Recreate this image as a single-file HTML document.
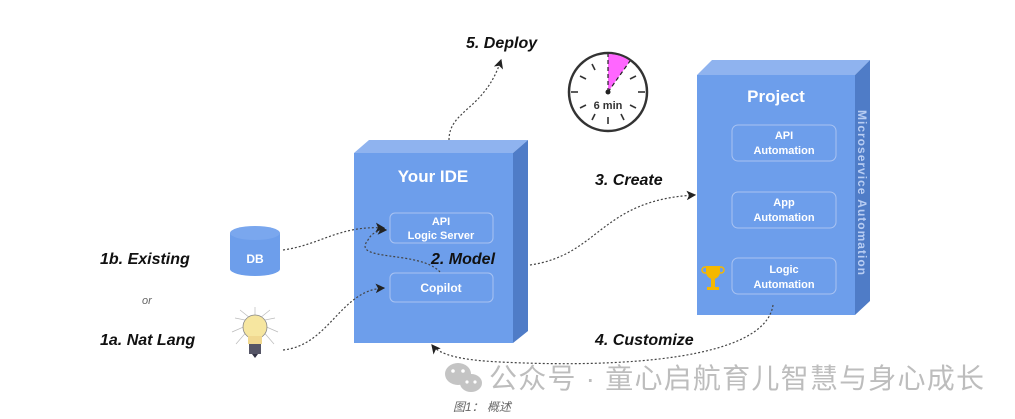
<!DOCTYPE html>
<html><head><meta charset="utf-8"><style>
body{margin:0;background:#fff;width:1015px;height:419px;overflow:hidden}
svg{display:block}
text{font-family:"Liberation Sans",sans-serif}
.w{fill:#fff;font-weight:bold;text-anchor:middle}
.b{font-weight:bold;font-style:italic;fill:#111;font-size:16px}
.d{fill:none;stroke:#444;stroke-width:1.2;stroke-dasharray:2 2}
.in{fill:none;stroke:#a9c3f2;stroke-width:1}
</style></head><body>
<svg width="1015" height="419" viewBox="0 0 1015 419">
<defs><marker id="a" markerWidth="8" markerHeight="8" refX="7" refY="4" orient="auto"><path d="M0,0 L8,4 L0,8 L2,4z" fill="#222"/></marker></defs>
<polygon points="354,153 369,140 528,140 513,153" fill="#8fb3ef"/>
<polygon points="513,153 528,140 528,331 513,343" fill="#4f7cc7"/>
<rect x="354" y="153" width="159" height="190" fill="#6d9eeb"/>
<text x="433" y="182" class="w" font-size="17">Your IDE</text>
<rect x="390" y="213" width="103" height="30" rx="5" class="in"/>
<text x="441" y="225" class="w" font-size="11">API</text>
<text x="441" y="239" class="w" font-size="11">Logic Server</text>
<rect x="390" y="273" width="103" height="29" rx="5" class="in"/>
<text x="441" y="292" class="w" font-size="12">Copilot</text>
<text x="431" y="264" class="b">2. Model</text>
<polygon points="697,75 712,60 870,60 855,75" fill="#8fb3ef"/>
<polygon points="855,75 870,60 870,301 855,315" fill="#4f7cc7"/>
<rect x="697" y="75" width="158" height="240" fill="#6d9eeb"/>
<text x="776" y="102" class="w" font-size="17">Project</text>
<rect x="732" y="125" width="104" height="36" rx="6" class="in"/>
<text x="784" y="139" class="w" font-size="11">API</text>
<text x="784" y="154" class="w" font-size="11">Automation</text>
<rect x="732" y="192" width="104" height="36" rx="6" class="in"/>
<text x="784" y="206" class="w" font-size="11">App</text>
<text x="784" y="221" class="w" font-size="11">Automation</text>
<rect x="732" y="258" width="104" height="36" rx="6" class="in"/>
<text x="784" y="273" class="w" font-size="11">Logic</text>
<text x="784" y="288" class="w" font-size="11">Automation</text>
<text transform="translate(858,110) rotate(90)" fill="#b8cdf3" font-weight="bold" font-size="12" textLength="165">Microservice Automation</text>
<path d="M706,266 h14 v6 a7,7 0 0 1 -14,0z" fill="#f5b800"/>
<circle cx="705" cy="270" r="3" fill="none" stroke="#f5b800" stroke-width="1.5"/>
<circle cx="721" cy="270" r="3" fill="none" stroke="#f5b800" stroke-width="1.5"/>
<rect x="711" y="279" width="4" height="8" fill="#f5b800"/><rect x="707" y="287" width="12" height="3" fill="#f5b800"/>
<path d="M230,233 v36 a25,7 0 0 0 50,0 v-36z" fill="#6d9eeb"/>
<ellipse cx="255" cy="233" rx="25" ry="7" fill="#7aa7ee"/>
<text x="255" y="263" class="w" font-size="12">DB</text>
<g stroke="#bbb" stroke-width="0.7">
<line x1="255" y1="322" x2="235" y2="318"/><line x1="255" y1="322" x2="275" y2="318"/><line x1="255" y1="322" x2="240" y2="310"/><line x1="255" y1="322" x2="270" y2="310"/><line x1="255" y1="322" x2="232" y2="332"/><line x1="255" y1="322" x2="278" y2="332"/><line x1="255" y1="322" x2="236" y2="344"/><line x1="255" y1="322" x2="274" y2="344"/><line x1="255" y1="322" x2="255" y2="307"/></g>
<circle cx="255" cy="327" r="12" fill="#f6e6a0" stroke="#888" stroke-width="0.8"/>
<path d="M248,336 h14 v8 h-14z" fill="#f0d890"/>
<rect x="249" y="344" width="12" height="10" fill="#556"/><path d="M252,354 h6 l-3,4z" fill="#334"/>
<circle cx="608" cy="92" r="39" fill="#fff" stroke="#333" stroke-width="2.5"/>
<path d="M608,92 L608,54 A38,38 0 0 1 630,61 Z" fill="#ff66ff"/>
<line x1="608" y1="92" x2="608" y2="54" stroke="#222" stroke-width="1.2" stroke-dasharray="4 3"/>
<line x1="608" y1="92" x2="630" y2="61" stroke="#222" stroke-width="1.2" stroke-dasharray="4 3"/>
<g stroke="#333" stroke-width="1.6">
<line x1="592" y1="64" x2="595" y2="70"/><line x1="580" y1="76" x2="586" y2="79"/><line x1="571" y1="92" x2="578" y2="92"/><line x1="580" y1="108" x2="586" y2="105"/><line x1="592" y1="120" x2="595" y2="114"/><line x1="608" y1="124" x2="608" y2="117"/><line x1="624" y1="120" x2="621" y2="114"/><line x1="636" y1="108" x2="630" y2="105"/><line x1="645" y1="92" x2="638" y2="92"/><line x1="636" y1="76" x2="630" y2="79"/></g>
<circle cx="608" cy="92" r="2.5" fill="#222"/>
<text x="608" y="109" text-anchor="middle" font-size="11" font-weight="bold" fill="#333">6 min</text>
<text x="466" y="48" class="b">5. Deploy</text>
<text x="595" y="185" class="b">3. Create</text>
<text x="595" y="345" class="b">4. Customize</text>
<text x="100" y="264" class="b">1b. Existing</text>
<text x="142" y="304" font-style="italic" font-size="11" fill="#666">or</text>
<text x="100" y="345" class="b">1a. Nat Lang</text>
<path class="d" d="M449,140 C449,110 485,110 501,60" marker-end="url(#a)"/>
<path class="d" d="M283,250 C320,245 340,225 384,228" marker-end="url(#a)"/>
<path class="d" d="M283,350 C330,345 340,290 384,288" marker-end="url(#a)"/>
<path class="d" d="M440,272 C420,250 350,262 368,240 C372,232 380,230 386,230" marker-end="url(#a)"/>
<path class="d" d="M530,265 C600,255 600,200 695,195" marker-end="url(#a)"/>
<path class="d" d="M773,305 C765,360 620,368 500,362 C460,360 440,355 432,345" marker-end="url(#a)"/>
<g fill="#c4c4c4"><ellipse cx="458" cy="374" rx="13" ry="11"/><ellipse cx="471" cy="383" rx="11" ry="9"/></g>
<circle cx="453" cy="371" r="1.8" fill="#fff"/><circle cx="463" cy="371" r="1.8" fill="#fff"/>
<circle cx="467" cy="382" r="1.6" fill="#fff"/><circle cx="475" cy="382" r="1.6" fill="#fff"/>
<text x="489" y="388" font-size="28" fill="#bdbdbd" textLength="495" style="font-family:'Liberation Sans','Noto Sans CJK SC',sans-serif">公众号 · 童心启航育儿智慧与身心成长</text>
<text x="453" y="411" font-size="12" font-style="italic" fill="#666" style="font-family:'Liberation Sans','Noto Sans CJK SC',sans-serif">图1： 概述</text>
</svg>
</body></html>
